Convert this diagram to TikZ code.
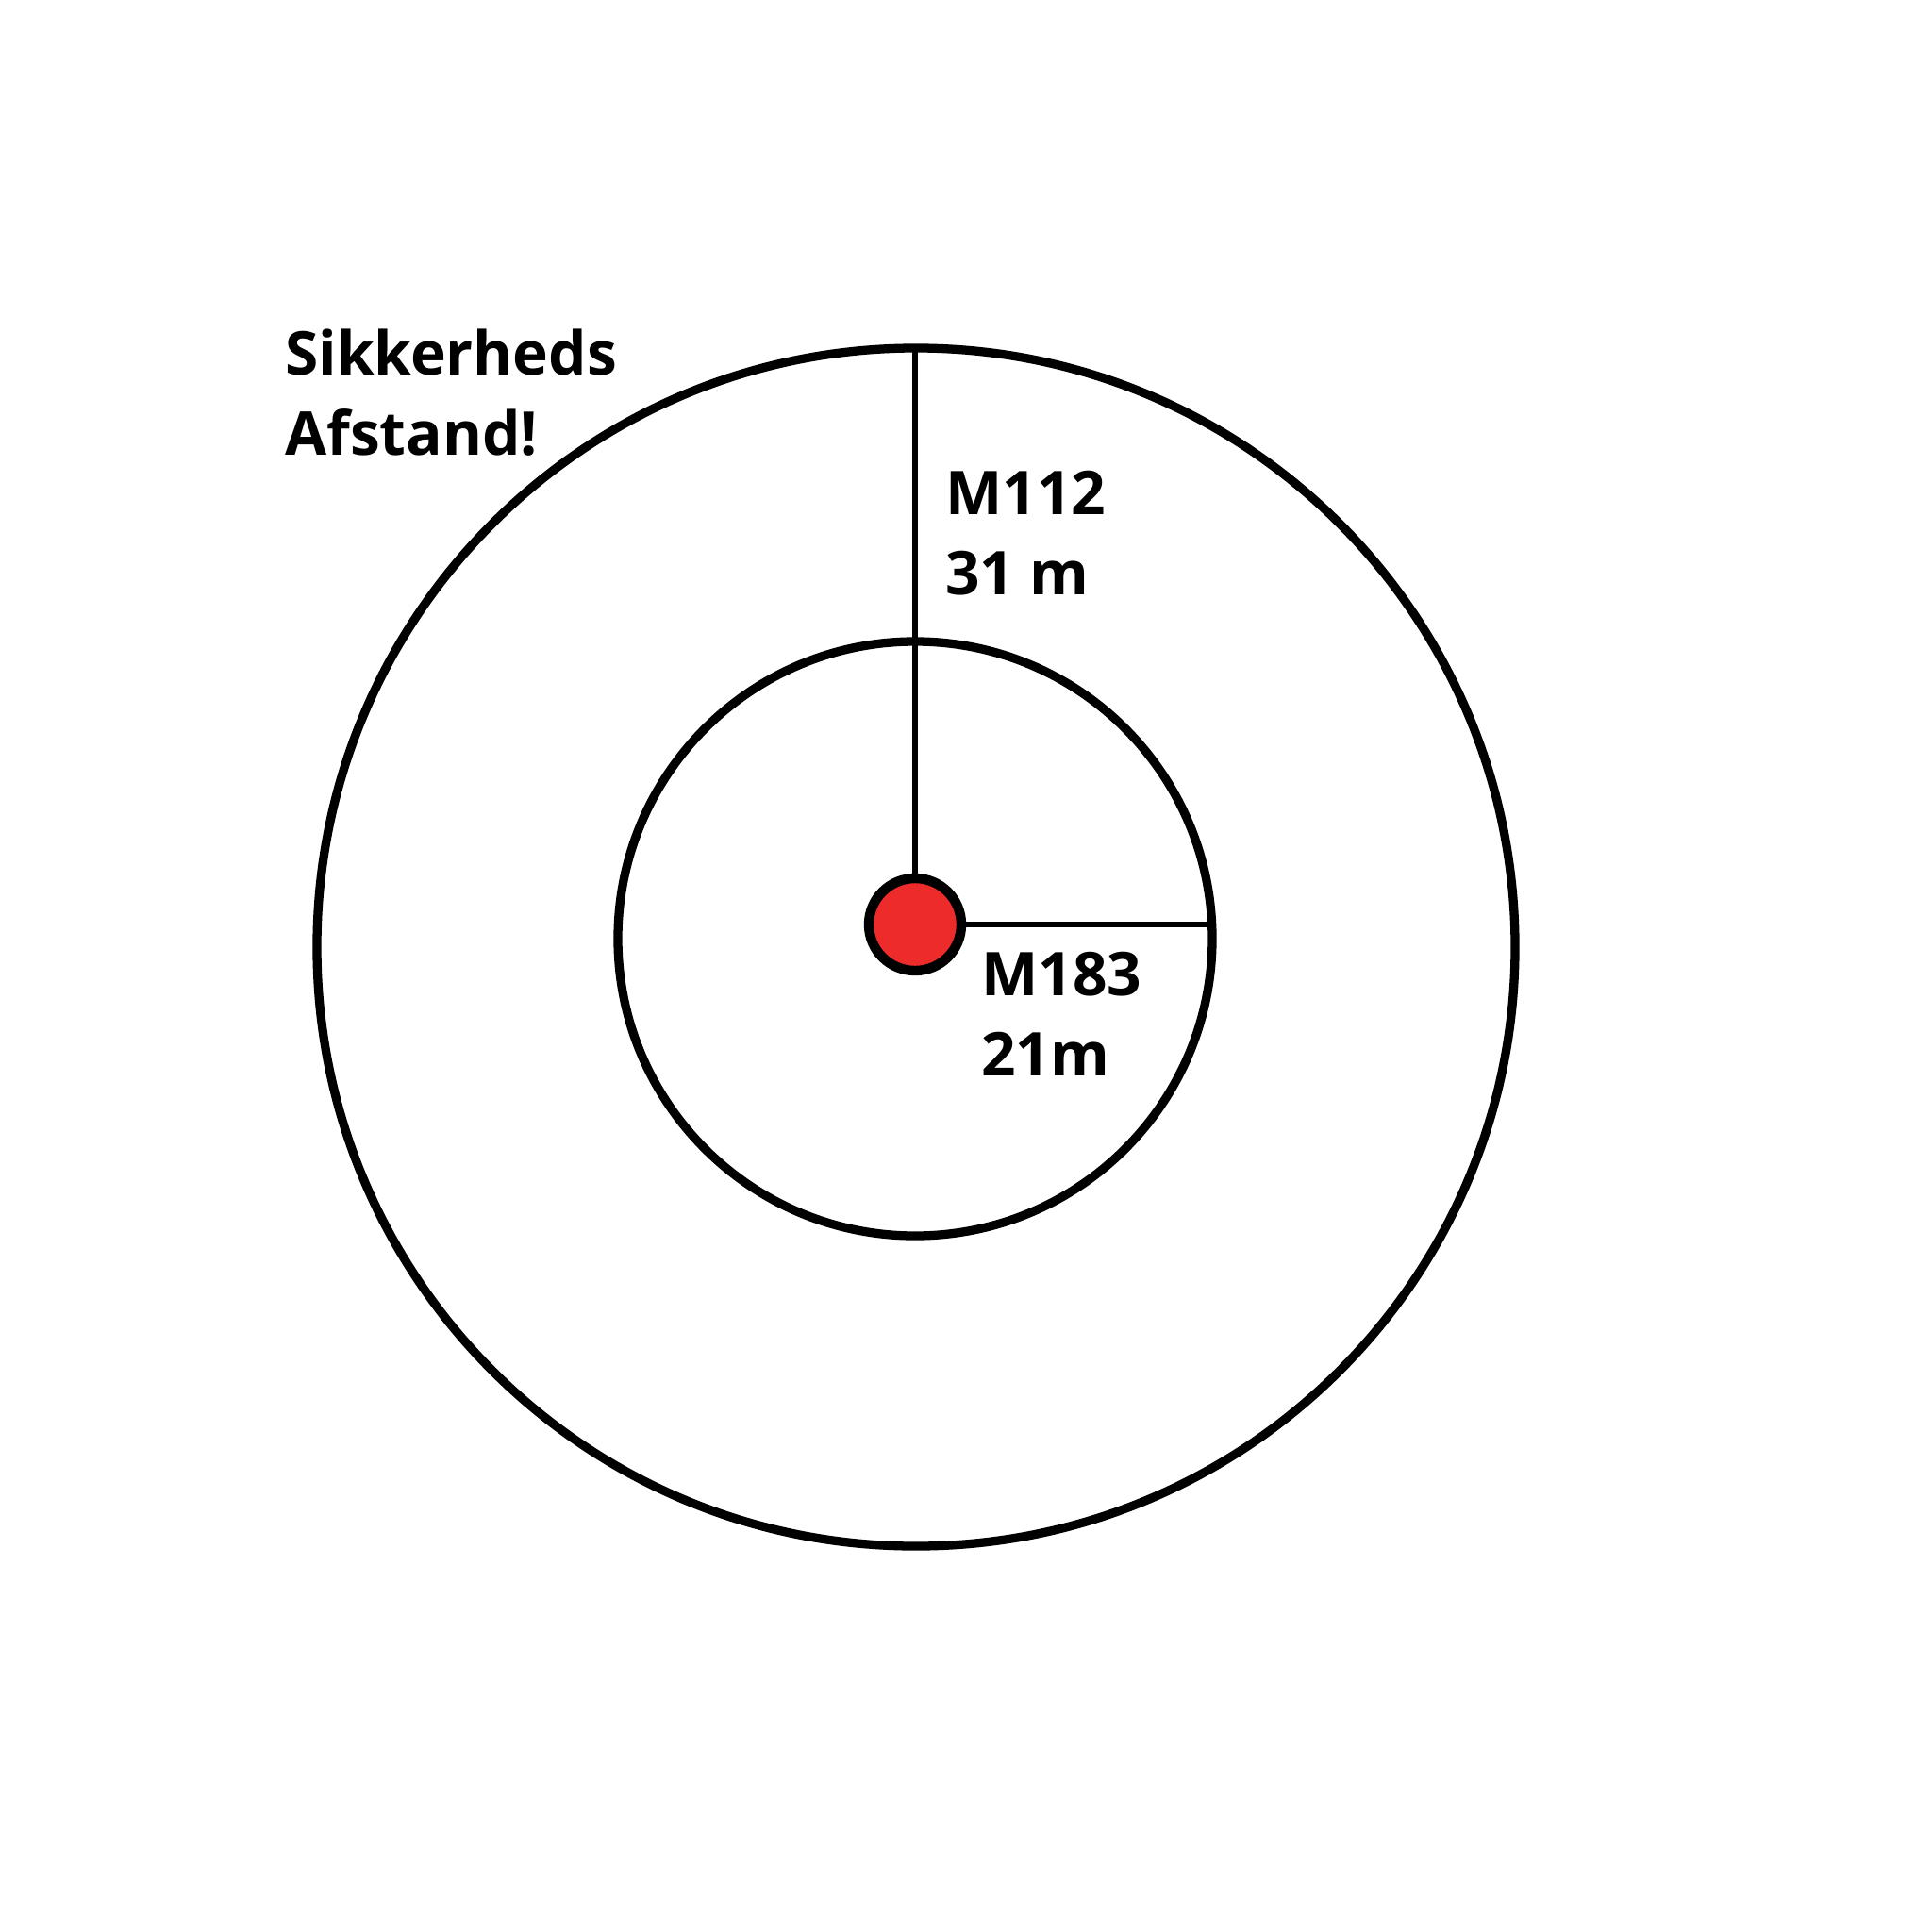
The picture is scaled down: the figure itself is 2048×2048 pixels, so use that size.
\documentclass[tikz,border=0pt]{standalone}
\usepackage{fontspec}
\setmainfont{Open Sans}
\usetikzlibrary{calc}
\definecolor{dotred}{RGB}{238,43,43}
\tikzset{
  ring/.style={circle,draw=black,line width=6.6pt,inner sep=0pt},
  radius line/.style={draw=black,line width=4.2pt},
  label text/.style={font=\fontsize{45.5}{60.4}\selectfont\bfseries,align=left,inner sep=0pt,anchor=base west}
}

\begin{document}
\begin{tikzpicture}[x=0.25mm,y=-0.25mm]
  \useasboundingbox[fill=white] (0,0) rectangle (2048,2048);

  \node[ring,minimum size=317.5mm] (outerring) at (971,1004) {};
  \node[ring,minimum size=157.5mm] (innerring) at (970,995) {};
  \node[circle,draw=black,fill=dotred,line width=7.4pt,inner sep=0pt,minimum size=24.5mm] (charge) at (970,980) {};

  \draw[radius line,shorten >=3pt] (charge.north) -- (charge.north |- outerring.north);
  \draw[radius line,shorten >=4pt] (charge.east) -- (charge.east -| innerring.east);

  % base anchor sits on the last line
  \node[label text] (title) at (302,482) {Sikkerheds\\Afstand!};
  \node[label text] (outerlabel) at (1002,630) {M112\\31 m};
  \node[label text] (innerlabel) at (1040,1140) {M183\\21m};
\end{tikzpicture}
\end{document}
